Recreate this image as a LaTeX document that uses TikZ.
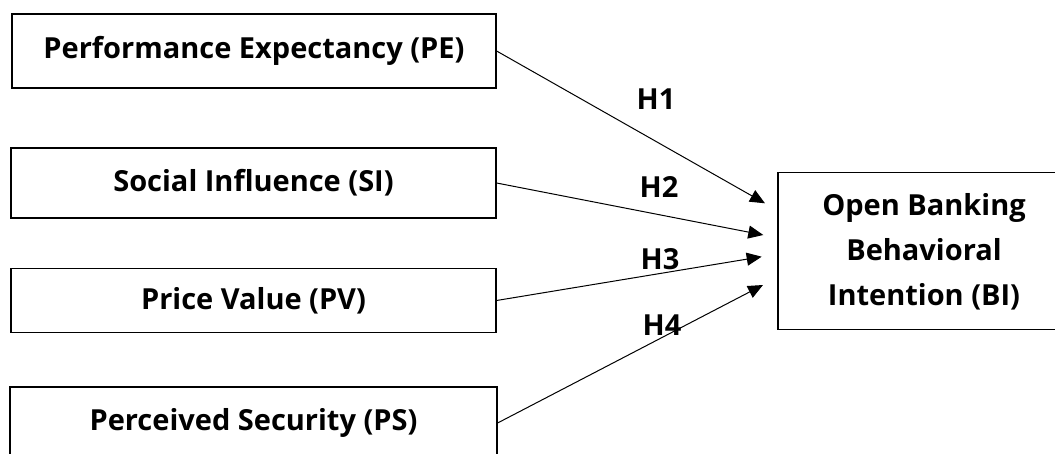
\documentclass[tikz,border=0pt]{standalone}
\usepackage{fontspec}
\setmainfont{Open Sans}
\usetikzlibrary{arrows.meta}
\begin{document}
\begin{tikzpicture}[x=1pt,y=-1pt,
  box/.style={draw, line width=1.2pt, inner sep=0pt, align=center,
    font=\bfseries\fontsize{29}{45}\selectfont},
  conn/.style={line width=1pt, -{Triangle[length=15pt,width=13pt]}},
  lbl/.style={inner sep=0pt, font=\bfseries\fontsize{29}{35}\selectfont}]
\useasboundingbox (0,0) rectangle (1055,454);
\clip (0,0) rectangle (1055,454);
\node[box, minimum width=484pt, minimum height=74pt] (PE) at (254,51) {Performance Expectancy (PE)};
\node[box, minimum width=485pt, minimum height=70pt] (SI) at (253.5,183) {Social Influence (SI)};
\node[box, minimum width=485pt, minimum height=64pt] (PV) at (253.5,300.5) {Price Value (PV)};
\node[box, minimum width=487pt, minimum height=72pt] (PS) at (253.5,423) {Perceived Security (PS)};
\node[box, minimum width=292pt, minimum height=157pt] (BI) at (924,251.4) {Open Banking\\Behavioral\\Intention (BI)};
\coordinate (t1) at (765,203.3);
\coordinate (t2) at (763.3,235);
\coordinate (t3) at (761.7,256.7);
\coordinate (t4) at (763,285);
\draw[conn] (PE.east) -- (t1);
\draw[conn] (SI.east) -- (t2);
\draw[conn] (PV.east) -- (t3);
\draw[conn] (PS.east) -- (t4);
\node[lbl] (h1) at (656,99) {H1};
\node[lbl] (h2) at (659,187) {H2};
\node[lbl] (h3) at (660,259) {H3};
\node[lbl] (h4) at (662,325) {H4};
\end{tikzpicture}
\end{document}
